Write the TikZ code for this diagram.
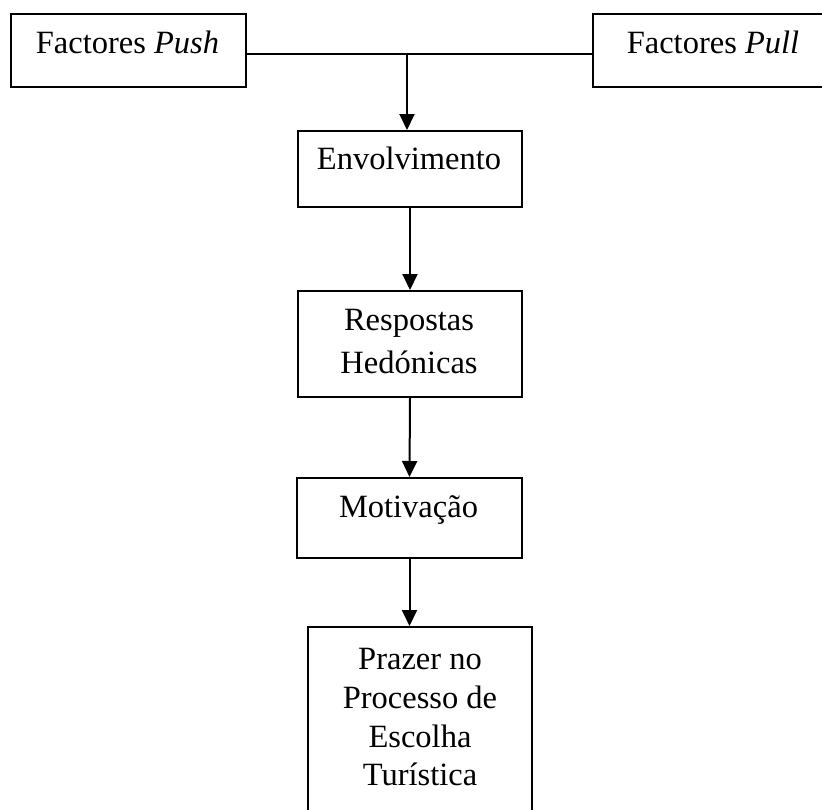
\documentclass[tikz,border=0pt]{standalone}
\usepackage{fontspec}
\setmainfont{Liberation Serif}
\usetikzlibrary{arrows.meta}
\begin{document}
\begin{tikzpicture}[x=1pt,y=-1pt,
 box/.style={draw,line width=2pt,inner sep=0pt,anchor=north west},
 lbl/.style={anchor=base,inner sep=0pt,font=\fontsize{32.5}{38}\selectfont},
 arr/.style={line width=2pt,-{Triangle[length=16pt,width=15pt]}}]
\useasboundingbox (0,0) rectangle (822,809);
\clip (0,0) rectangle (822,809);
% boxes
\node[box,minimum width=235pt,minimum height=73pt] (push) at (10,13) {};
\node[box,minimum width=242pt,minimum height=73pt] (pull) at (592,13) {};
\node[box,minimum width=224pt,minimum height=76pt] (env) at (297,130) {};
\node[box,minimum width=224pt,minimum height=106pt] (resp) at (297,290) {};
\node[box,minimum width=225pt,minimum height=80pt] (mot) at (296,477) {};
\node[box,minimum width=224pt,minimum height=204pt] (praz) at (307,626) {};
% labels
\node[lbl] (tpush) at (127.5,53) {Factores \textit{Push}};
\node[lbl] (tpull) at (713,53) {Factores \textit{Pull}};
\node[lbl] (tenv) at (409,169) {Envolvimento};
\node[lbl] (tresp1) at (409,330) {Respostas};
\node[lbl] (tresp2) at (409,373) {Hedónicas};
\node[lbl] (tmot) at (408.5,517) {Motivação};
\node[lbl] (tp1) at (420,669) {Prazer no};
\node[lbl] (tp2) at (420,708) {Processo de};
\node[lbl] (tp3) at (420,747) {Escolha};
\node[lbl] (tp4) at (420,785) {Turística};
% connectors
\coordinate (j) at (407,54);
\draw[line width=2pt] (push.east |- j) -- (pull.west |- j);
\draw[arr] (j) -- (j |- env.north);
\draw[arr] (env.south) -- (resp.north);
\draw[arr] (resp.south) -- (mot.north);
\draw[arr] (mot.south) -- (mot.south |- praz.north);
\end{tikzpicture}
\end{document}
